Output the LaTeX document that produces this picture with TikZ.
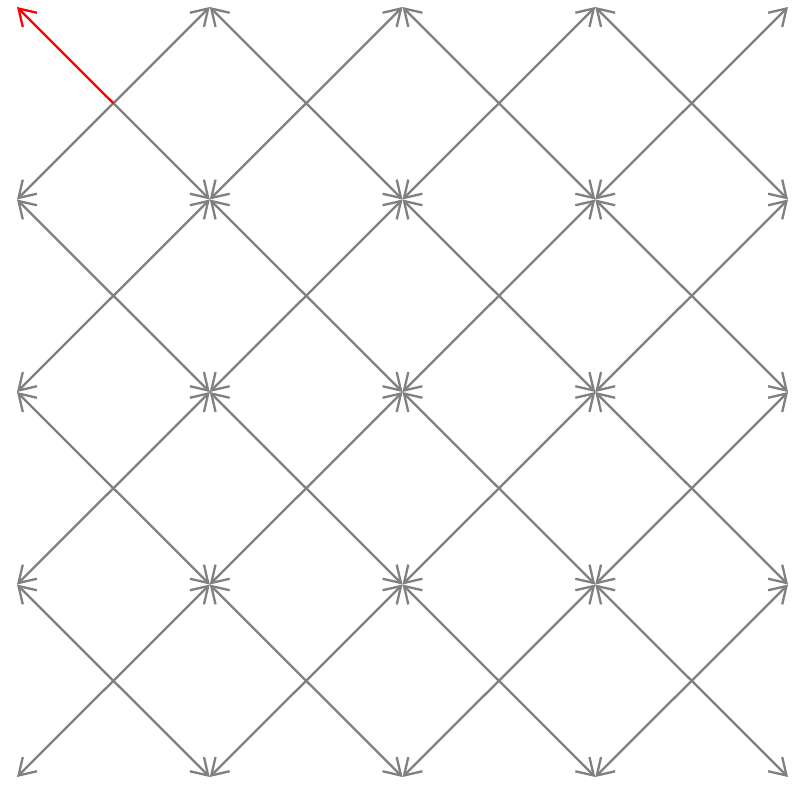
\documentclass[tikz,border=0pt]{standalone}
\usetikzlibrary{arrows.meta}
\begin{document}
\begin{tikzpicture}[x=1pt,y=-1pt,
  vec/.style={draw=gray,line width=2.3pt,-{Straight Barb[length=16pt,width=20pt]}},
  redvec/.style={vec,draw=red}]
\useasboundingbox (0,0) rectangle (799,786);
\foreach \i in {0,...,4}{
  \foreach \j in {0,...,4}{
    \coordinate (p-\i-\j) at ({17+192.75*\i},{7+192.5*\j});
  }
}
\foreach \i in {0,...,3}{
  \foreach \j in {0,...,3}{
    \coordinate (c-\i-\j) at ({17+192.75*(\i+0.5)},{7+192.5*(\j+0.5)});
  }
}
\foreach \i [evaluate=\i as \ii using int(\i+1)] in {0,...,3}{
  \foreach \j [evaluate=\j as \jj using int(\j+1)] in {0,...,3}{
    \draw[vec] (c-\i-\j) -- (p-\ii-\j);
    \draw[vec] (c-\i-\j) -- (p-\i-\jj);
    \draw[vec] (c-\i-\j) -- (p-\ii-\jj);
    \ifnum\i=0 \ifnum\j=0 \else \draw[vec] (c-\i-\j) -- (p-\i-\j); \fi
    \else \draw[vec] (c-\i-\j) -- (p-\i-\j); \fi
  }
}
\draw[redvec] (c-0-0) -- (p-0-0);
\end{tikzpicture}
\end{document}
